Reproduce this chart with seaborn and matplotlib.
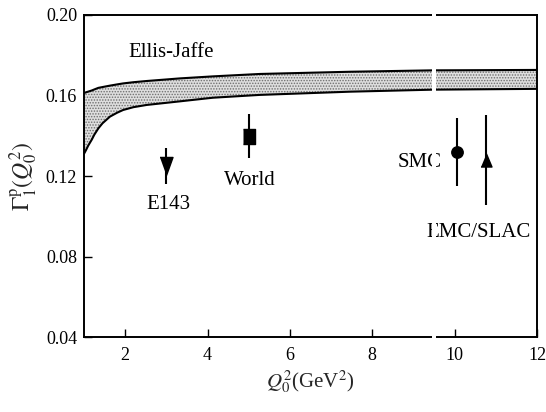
import numpy as np
import pandas as pd
import matplotlib
matplotlib.use("Agg")
import matplotlib.pyplot as plt
import seaborn as sns

# Ellis-Jaffe prediction band (upper / lower edges) vs Q0^2
band_q2 = [1.0, 1.05, 1.10, 1.19, 1.25, 1.35, 1.45, 1.63, 1.80, 1.95, 2.20, 2.52, 3.33, 4.13, 5.27, 7.46, 9.47, 12.0]
band_hi = [0.1612, 0.1616, 0.1619, 0.1625, 0.1630, 0.1638, 0.1642, 0.1649, 0.1655, 0.1660, 0.1666, 0.1672, 0.1685, 0.1695, 0.1707, 0.1718, 0.1725, 0.1727]
band_lo = [0.1310, 0.1329, 0.1350, 0.1381, 0.1405, 0.1437, 0.1462, 0.1495, 0.1514, 0.1528, 0.1542, 0.1553, 0.1571, 0.1589, 0.1603, 0.1619, 0.1629, 0.1633]

# Experimental determinations of Gamma_1^p
experiments = ["E143", "World", "SMC", "EMC/SLAC"]
exp_q2 = [3.0, 5.0, 10.05, 10.76]
exp_val = [0.125, 0.140, 0.132, 0.128]
exp_err = [0.009, 0.011, 0.017, 0.0225]

x_ticks = [2, 4, 6, 8, 10, 12]
y_ticks = [0.04, 0.08, 0.12, 0.16, 0.20]

sns.set_theme(style="ticks")
plt.rcParams["font.family"] = ["Liberation Serif", "DejaVu Serif"]
plt.rcParams["mathtext.fontset"] = "stix"
plt.rcParams["hatch.linewidth"] = 0.7
plt.rcParams["hatch.color"] = "#6e6e6e"

fig = plt.figure(figsize=(5.46, 4.12), dpi=100)
ax = fig.add_axes([0.1538, 0.182, 0.8297, 0.7816])

band = pd.DataFrame({"q2": band_q2, "hi": band_hi, "lo": band_lo})
ax.fill_between(band["q2"], band["lo"], band["hi"], facecolor="#dedede",
                edgecolor="#6e6e6e", hatch="......", linewidth=0, zorder=1)
sns.lineplot(data=band, x="q2", y="hi", ax=ax, color="black", lw=1.5, zorder=2)
sns.lineplot(data=band, x="q2", y="lo", ax=ax, color="black", lw=1.5, zorder=2)

tri_down = [(-0.36, 0.5), (0.36, 0.5), (0.0, -0.5)]
square = [(-0.37, -0.5), (0.37, -0.5), (0.37, 0.5), (-0.37, 0.5)]
tri_up = [(-0.42, -0.5), (0.42, -0.5), (0.0, 0.5)]
markers = [tri_down, square, "o", tri_up]
msizes = [13, 10.8, 8.2, 9.4]
for q, v, e, m, s in zip(exp_q2, exp_val, exp_err, markers, msizes):
    ax.errorbar(q, v, yerr=e, fmt="none", ecolor="black", elinewidth=1.5, capsize=0, zorder=3)
    ax.plot(q, v, marker=m, markersize=s, color="black", linestyle="none", zorder=4)

text_kw = dict(fontsize=15, color="black")
ax.text(2.09, 0.1816, "Ellis-Jaffe", ha="left", va="center", **text_kw)
ax.text(3.05, 0.106, experiments[0], ha="center", va="center", **text_kw)
ax.text(5.03, 0.118, experiments[1], ha="center", va="center", **text_kw)
ax.text(9.16, 0.1265, experiments[2], ha="center", va="center", **text_kw)
ax.text(10.57, 0.0917, experiments[3], ha="center", va="center", **text_kw)

ax.set_xlim(1, 12)
ax.set_ylim(0.04, 0.20)
ax.set_xticks(x_ticks)
ax.set_yticks(y_ticks)
ax.set_xticklabels([str(t) for t in x_ticks])
ax.set_yticklabels([f"{t:.2f}" for t in y_ticks])
ax.tick_params(direction="in", length=6, width=1.0, labelsize=13, colors="black", pad=7)
ax.tick_params(axis="y", pad=5)
for sp in ax.spines.values():
    sp.set_visible(True)
    sp.set_linewidth(1.4)
    sp.set_color("black")

ax.set_xlabel(r"$Q_0^2$(GeV$^2$)", fontsize=15, labelpad=3)
ax.set_ylabel(r"$\Gamma_1^{\mathrm{p}}(Q_0^2)$", fontsize=17, labelpad=4)

# thin vertical break across the frame
ax.axvspan(9.44, 9.54, ymin=-0.01, ymax=1.01, color="white", lw=0, zorder=10, clip_on=False)

fig.savefig("out.png", dpi=100)
